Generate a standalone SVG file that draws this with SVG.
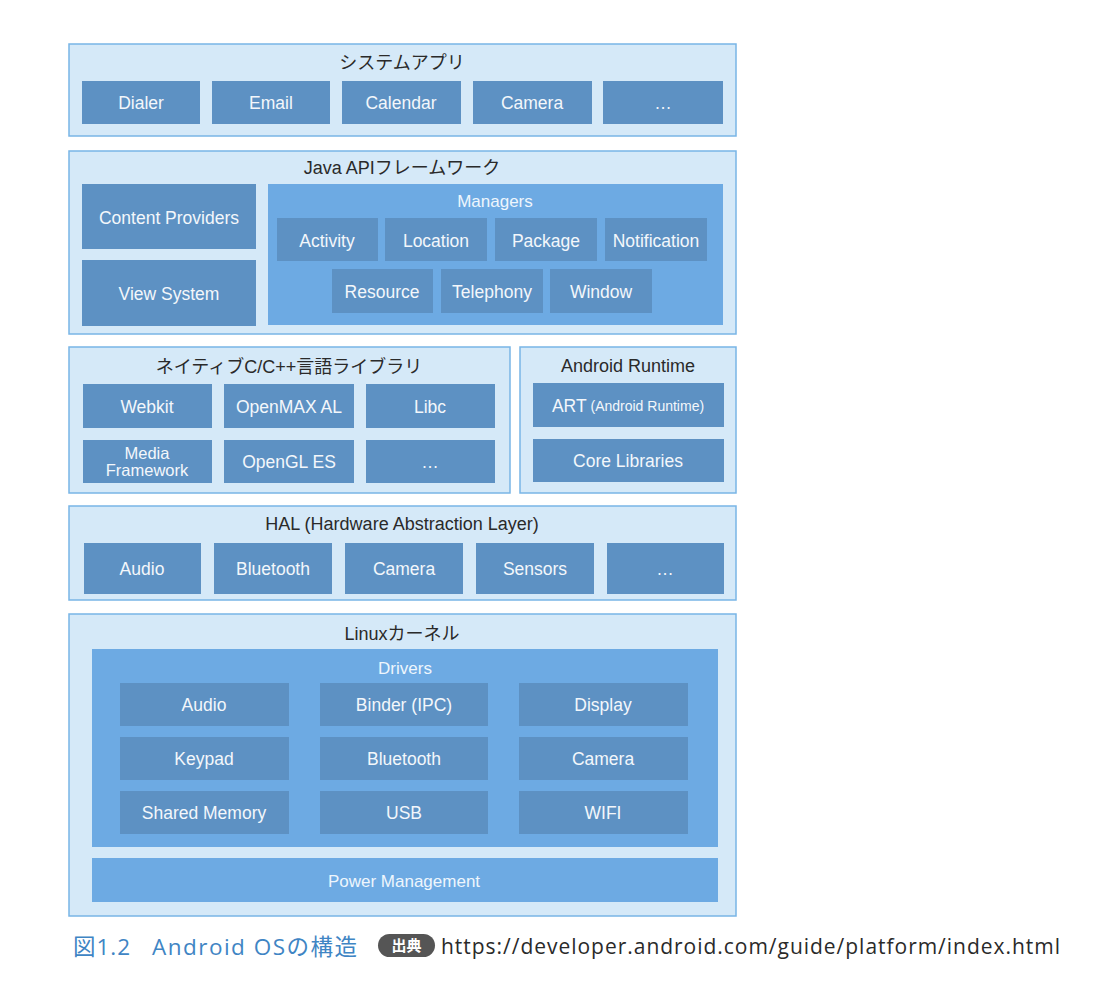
<svg xmlns="http://www.w3.org/2000/svg" width="1114" height="1002" viewBox="0 0 1114 1002">
<style>
.panel{fill:#d5e9f8;stroke:#78b5e6;stroke-width:1.5}
.box{fill:#5d91c3}
.grp{fill:#6daae3}
.t{font-family:"Liberation Sans","Noto Sans CJK JP",sans-serif;text-anchor:middle;dominant-baseline:central}
.title{font-size:18px;fill:#2a2a2a}
.lbl{font-size:17.5px;fill:#f3f7fb}
.sm{font-size:16.5px;fill:#f3f7fb}
.glbl{font-size:17px;fill:#eef6fd}
.cap{font-family:"Open Sans","Noto Sans CJK JP",sans-serif;font-size:22.5px;fill:#3f85c4}
</style>
<rect width="1114" height="1002" fill="#ffffff"/>

<g id="system-apps">
<rect class="panel" x="69" y="44" width="667" height="92"/>
<text class="t title" x="402" y="63">システムアプリ</text>
<g id="dialer"><rect class="box" x="82" y="81" width="118" height="43"/><text class="t lbl" x="141" y="103">Dialer</text></g>
<g id="email"><rect class="box" x="212" y="81" width="118" height="43"/><text class="t lbl" x="271" y="103">Email</text></g>
<g id="calendar"><rect class="box" x="342" y="81" width="119" height="43"/><text class="t lbl" x="401" y="103">Calendar</text></g>
<g id="camera-app"><rect class="box" x="473" y="81" width="119" height="43"/><text class="t lbl" x="532" y="103">Camera</text></g>
<g id="more-app"><rect class="box" x="603" y="81" width="120" height="43"/><text class="t lbl" x="663" y="103">…</text></g>
</g>

<g id="java-api">
<rect class="panel" x="69" y="151" width="667" height="183"/>
<text class="t title" x="402" y="168">Java APIフレームワーク</text>
<g id="content-providers"><rect class="box" x="82" y="184" width="174" height="65"/><text class="t lbl" x="169" y="218">Content Providers</text></g>
<g id="view-system"><rect class="box" x="82" y="260" width="174" height="66"/><text class="t lbl" x="169" y="294">View System</text></g>
<g id="managers">
<rect class="grp" x="268" y="184" width="455" height="141"/>
<text class="t glbl" x="495" y="201">Managers</text>
<g id="activity"><rect class="box" x="277" y="218" width="101" height="43"/><text class="t lbl" x="327" y="241">Activity</text></g>
<g id="location"><rect class="box" x="385" y="218" width="102" height="43"/><text class="t lbl" x="436" y="241">Location</text></g>
<g id="package"><rect class="box" x="495" y="218" width="102" height="43"/><text class="t lbl" x="546" y="241">Package</text></g>
<g id="notification"><rect class="box" x="605" y="218" width="102" height="43"/><text class="t lbl" x="656" y="241">Notification</text></g>
<g id="resource"><rect class="box" x="332" y="269" width="101" height="44"/><text class="t lbl" x="382" y="292">Resource</text></g>
<g id="telephony"><rect class="box" x="441" y="269" width="102" height="44"/><text class="t lbl" x="492" y="292">Telephony</text></g>
<g id="window"><rect class="box" x="550" y="269" width="102" height="44"/><text class="t lbl" x="601" y="292">Window</text></g>
</g>
</g>

<g id="native-libs">
<rect class="panel" x="69" y="347" width="441" height="146"/>
<text class="t title" x="289" y="367">ネイティブC/C++言語ライブラリ</text>
<g id="webkit"><rect class="box" x="83" y="384" width="129" height="44"/><text class="t lbl" x="147" y="407">Webkit</text></g>
<g id="openmax"><rect class="box" x="224" y="384" width="130" height="44"/><text class="t lbl" x="289" y="407">OpenMAX AL</text></g>
<g id="libc"><rect class="box" x="366" y="384" width="129" height="44"/><text class="t lbl" x="430" y="407">Libc</text></g>
<g id="media-framework"><rect class="box" x="83" y="440" width="129" height="43"/><text class="t sm" x="147" y="453">Media</text><text class="t sm" x="147" y="470">Framework</text></g>
<g id="opengl"><rect class="box" x="224" y="440" width="130" height="43"/><text class="t lbl" x="289" y="462">OpenGL ES</text></g>
<g id="more-native"><rect class="box" x="366" y="440" width="129" height="43"/><text class="t lbl" x="430" y="462">…</text></g>
</g>

<g id="android-runtime">
<rect class="panel" x="520" y="347" width="216" height="146"/>
<text class="t title" x="628" y="366">Android Runtime</text>
<g id="art"><rect class="box" x="533" y="383" width="191" height="44"/><text class="t lbl" x="628" y="406">ART<tspan font-size="14px"> (Android Runtime)</tspan></text></g>
<g id="core-libraries"><rect class="box" x="533" y="439" width="191" height="43"/><text class="t lbl" x="628" y="461">Core Libraries</text></g>
</g>

<g id="hal">
<rect class="panel" x="69" y="506" width="667" height="94"/>
<text class="t title" x="402" y="524">HAL (Hardware Abstraction Layer)</text>
<g id="hal-audio"><rect class="box" x="84" y="543" width="117" height="51"/><text class="t lbl" x="142" y="569">Audio</text></g>
<g id="hal-bluetooth"><rect class="box" x="214" y="543" width="118" height="51"/><text class="t lbl" x="273" y="569">Bluetooth</text></g>
<g id="hal-camera"><rect class="box" x="345" y="543" width="118" height="51"/><text class="t lbl" x="404" y="569">Camera</text></g>
<g id="hal-sensors"><rect class="box" x="476" y="543" width="118" height="51"/><text class="t lbl" x="535" y="569">Sensors</text></g>
<g id="hal-more"><rect class="box" x="607" y="543" width="117" height="51"/><text class="t lbl" x="665" y="569">…</text></g>
</g>

<g id="linux-kernel">
<rect class="panel" x="69" y="614" width="667" height="302"/>
<text class="t title" x="402" y="634">Linuxカーネル</text>
<g id="drivers">
<rect class="grp" x="92" y="649" width="626" height="198"/>
<text class="t glbl" x="405" y="668">Drivers</text>
<g id="drv-audio"><rect class="box" x="120" y="683" width="169" height="43"/><text class="t lbl" x="204" y="705">Audio</text></g>
<g id="drv-binder"><rect class="box" x="320" y="683" width="168" height="43"/><text class="t lbl" x="404" y="705">Binder (IPC)</text></g>
<g id="drv-display"><rect class="box" x="519" y="683" width="169" height="43"/><text class="t lbl" x="603" y="705">Display</text></g>
<g id="drv-keypad"><rect class="box" x="120" y="737" width="169" height="43"/><text class="t lbl" x="204" y="759">Keypad</text></g>
<g id="drv-bluetooth"><rect class="box" x="320" y="737" width="168" height="43"/><text class="t lbl" x="404" y="759">Bluetooth</text></g>
<g id="drv-camera"><rect class="box" x="519" y="737" width="169" height="43"/><text class="t lbl" x="603" y="759">Camera</text></g>
<g id="drv-shm"><rect class="box" x="120" y="791" width="169" height="43"/><text class="t lbl" x="204" y="813">Shared Memory</text></g>
<g id="drv-usb"><rect class="box" x="320" y="791" width="168" height="43"/><text class="t lbl" x="404" y="813">USB</text></g>
<g id="drv-wifi"><rect class="box" x="519" y="791" width="169" height="43"/><text class="t lbl" x="603" y="813">WIFI</text></g>
</g>
<g id="power-management"><rect class="grp" x="92" y="858" width="626" height="44"/><text class="t glbl" x="404" y="881">Power Management</text></g>
</g>

<g id="caption">
<text class="cap" x="73" y="955" textLength="57">図1.2</text>
<text class="cap" x="152" y="955" textLength="205">Android OSの構造</text>
<rect x="378" y="934" width="57" height="23" rx="11.5" fill="#555555"/>
<text font-family="'Noto Sans CJK JP',sans-serif" font-size="15px" font-weight="bold" fill="#ffffff" x="406.5" y="951" text-anchor="middle">出典</text>
<text font-family="'Open Sans','Noto Sans',sans-serif" font-size="21px" fill="#2a2a2a" x="441" y="954" textLength="619">https://developer.android.com/guide/platform/index.html</text>
</g>
</svg>
